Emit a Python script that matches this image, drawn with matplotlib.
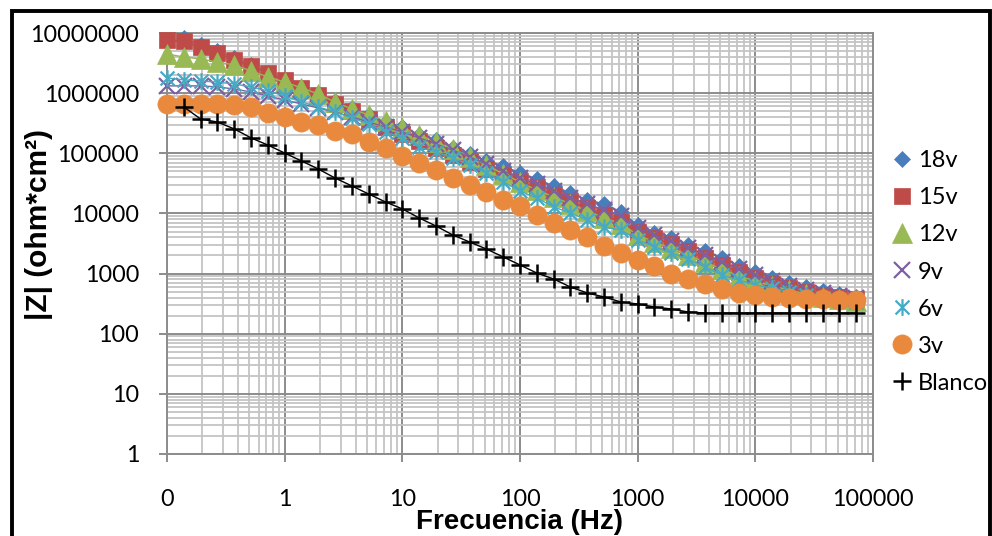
import numpy as np
import matplotlib
matplotlib.use("Agg")
import matplotlib.pyplot as plt
from matplotlib.path import Path
from matplotlib.lines import Line2D
from matplotlib.patches import Rectangle
from matplotlib.ticker import LogLocator, FixedLocator, FixedFormatter, NullFormatter

nan = np.nan

freq = [0.1, 0.139, 0.193, 0.268, 0.373, 0.518, 0.72,
        1, 1.39, 1.93, 2.68, 3.73, 5.18, 7.2,
        10, 13.9, 19.3, 26.8, 37.3, 51.8, 72,
        100, 139, 193, 268, 373, 518, 720,
        1000, 1390, 1930, 2680, 3730, 5180, 7200,
        10000, 13900, 19300, 26800, 37300, 51800, 72000]

z_18v = [nan, 8.26e6, 6.32e6, 5.02e6, 3.84e6, 2.94e6, 2.16e6,
         1.66e6, 1.27e6, 9.68e5, 7.41e5, 5.66e5, 4.34e5, 3.31e5,
         2.74e5, 2.02e5, 1.66e5, 1.22e5, 9.73e4, 7.45e4, 6.15e4,
         4.70e4, 3.73e4, 2.86e4, 2.19e4, 1.67e4, 1.44e4, 1.06e4,
         6.43e3, 4.73e3, 3.91e3, 2.99e3, 2.37e3, 1.82e3, 1.34e3,
         1.06e3, 844, 697, 598, 514, 458, 408]

z_15v = [7.65e6, 7.36e6, 5.85e6, 4.65e6, 3.56e6, 2.83e6, 2.16e6,
         1.66e6, 1.22e6, 9.33e5, 6.61e5, 5.05e5, 3.72e5, 2.74e5,
         2.09e5, 1.60e5, 1.22e5, 9.37e4, 7.16e4, 5.48e4, 4.36e4,
         3.33e4, 2.65e4, 2.03e4, 1.55e4, 1.23e4, 9.42e3, 7.21e3,
         4.92e3, 3.91e3, 3.10e3, 2.37e3, 1.82e3, 1.39e3, 1.06e3,
         844, 671, 576, 494, 441, 408, 378]

z_12v = [4.48e6, 3.99e6, 3.70e6, 3.30e6, 2.94e6, 2.34e6, 1.86e6,
         1.53e6, 1.22e6, 9.68e5, 7.13e5, 5.46e5, 4.34e5, 3.44e5,
         2.63e5, 2.02e5, 1.54e5, 1.18e5, 8.68e4, 6.39e4, 4.53e4,
         3.33e4, 2.45e4, 1.88e4, 1.44e4, 1.10e4, 8.40e3, 6.68e3,
         4.39e3, 3.35e3, 2.66e3, 2.04e3, 1.56e3, 1.19e3, 912,
         753, 622, 534, 458, 408, 378, 350]

z_9v = [1.32e6, 1.32e6, 1.32e6, 1.27e6, 1.17e6, 1.045e6, 8.97e5,
        7.69e5, 6.61e5, 5.66e5, 4.86e5, 4.02e5, 3.31e5, 2.74e5,
        2.26e5, 1.80e5, 1.43e5, 1.13e5, 8.68e4, 6.64e4, 5.08e4,
        3.88e4, 3.08e4, 2.36e4, 1.81e4, 1.44e4, 1.14e4, 9.08e3,
        5.73e3, 4.39e3, 3.48e3, 2.66e3, 2.04e3, 1.56e3, 1.19e3,
        947, 753, 622, 534, 476, 424, 393]

z_6v = [1.79e6, 1.66e6, 1.59e6, 1.53e6, 1.42e6, 1.27e6, 1.09e6,
        8.97e5, 7.13e5, 5.89e5, 4.86e5, 3.86e5, 3.07e5, 2.26e5,
        1.80e5, 1.27e5, 1.05e5, 8.35e4, 6.39e4, 4.70e4, 3.33e4,
        2.36e4, 1.81e4, 1.28e4, 1.02e4, 7.78e3, 5.96e3, 5.31e3,
        3.61e3, 2.77e3, 2.20e3, 1.75e3, 1.29e3, 947, 782,
        646, 576, 494, 441, 393, 364, 337]

z_3v = [6.61e5, 6.61e5, 6.61e5, 6.61e5, 6.36e5, 5.89e5, 4.68e5,
        4.02e5, 3.31e5, 2.96e5, 2.35e5, 2.09e5, 1.54e5, 1.22e5,
        9.02e4, 6.90e4, 5.27e4, 3.88e4, 2.97e4, 2.28e4, 1.67e4,
        1.33e4, 9.42e3, 6.94e3, 5.31e3, 4.06e3, 2.88e3, 2.20e3,
        1.68e3, 1.34e3, 984, 813, 671, 555, 476, 441, 408,
        393, 378, 378, 364, 364]

z_blanco = [nan, 5.89e5, 3.72e5, 3.31e5, 2.54e5, 1.80e5, 1.37e5,
            1.01e5, 7.45e4, 5.48e4, 3.88e4, 2.86e4, 2.10e4, 1.55e4,
            1.19e4, 8.40e3, 6.18e3, 4.39e3, 3.35e3, 2.56e3, 1.89e3,
            1.39e3, 1.02e3, 813, 598, 476, 408, 337, 312, 278, 258,
            230, 221, 221, 221, 221, 221, 221, 221, 221, 221, 221]

series_names = ["18v", "15v", "12v", "9v", "6v", "3v", "Blanco"]
x_tick_vals = [0.1, 1, 10, 100, 1000, 10000, 100000]
x_tick_labels = ["0", "1", "10", "100", "1000", "10000", "100000"]
y_tick_vals = [1, 10, 100, 1000, 10000, 100000, 1000000, 10000000]
y_tick_labels = ["1", "10", "100", "1000", "10000", "100000", "1000000", "10000000"]

# asterisk marker (X plus vertical bar) like Excel's star
star = Path([(-0.5, -0.5), (0.5, 0.5), (-0.5, 0.5), (0.5, -0.5), (0, -0.6), (0, 0.6)],
            [Path.MOVETO, Path.LINETO, Path.MOVETO, Path.LINETO, Path.MOVETO, Path.LINETO])

styles = [
    dict(marker="D", color="#4A7EBB", ms=8.6, mew=0.5),
    dict(marker="s", color="#BE4B48", ms=12.0, mew=0.5),
    dict(marker="^", color="#98B954", ms=15.0, mew=0.5),
    dict(marker="x", color="#7D60A0", ms=11.5, mew=1.6),
    dict(marker=star, color="#46AAC5", ms=12.0, mew=1.6),
    dict(marker="o", color="#E8893E", ms=13.8, mew=0.5),
    dict(marker="+", color="#000000", ms=13.0, mew=1.8),
]
data = [z_18v, z_15v, z_12v, z_9v, z_6v, z_3v, z_blanco]

W, H = 992, 536
fig = plt.figure(figsize=(W / 100, H / 100), dpi=100)
ax = fig.add_axes([167 / W, 1 - 454 / H, (873 - 167) / W, (454 - 33) / H])

tick_font = "Lato"
for i, (vals, st) in enumerate(zip(data, styles)):
    ax.plot(freq, vals, linestyle="-", lw=1.0, color=st["color"],
            marker=st["marker"], markersize=st["ms"], markeredgewidth=st["mew"],
            markerfacecolor=st["color"], markeredgecolor=st["color"],
            clip_on=False, zorder=3 + i)

ax.set_xscale("log")
ax.set_yscale("log")
ax.set_xlim(0.1, 100000)
ax.set_ylim(1, 10000000)

ax.xaxis.set_major_locator(FixedLocator(x_tick_vals))
ax.xaxis.set_major_formatter(FixedFormatter(x_tick_labels))
ax.yaxis.set_major_locator(FixedLocator(y_tick_vals))
ax.yaxis.set_major_formatter(FixedFormatter(y_tick_labels))
ax.xaxis.set_minor_locator(LogLocator(base=10, subs=np.arange(2, 10), numticks=50))
ax.yaxis.set_minor_locator(LogLocator(base=10, subs=np.arange(2, 10), numticks=50))
ax.xaxis.set_minor_formatter(NullFormatter())
ax.yaxis.set_minor_formatter(NullFormatter())

ax.set_axisbelow(True)
ax.grid(which="major", color="#8C8C8C", lw=1.4)
ax.grid(which="minor", color="#C4C4C4", lw=1.3)
for s in ax.spines.values():
    s.set_color("#8C8C8C")
    s.set_linewidth(1.4)

ax.tick_params(which="major", direction="out", length=6, width=1.4, color="#8C8C8C",
               labelsize=16.8, labelcolor="black")
ax.tick_params(which="minor", length=0)
ax.tick_params(axis="x", pad=19)
ax.tick_params(axis="y", pad=14)
for lab in ax.get_xticklabels() + ax.get_yticklabels():
    lab.set_fontfamily(tick_font)

fig.text(520 / W, 1 - 522 / H, "Frecuencia (Hz)", ha="center", va="center",
         fontsize=20, fontweight="bold", family="Liberation Sans")
fig.text(39 / W, 1 - 225 / H, "|Z| (ohm*cm²)", ha="center", va="center", rotation=90,
         fontsize=21.5, fontweight="bold", family="Liberation Sans")

handles = [Line2D([], [], linestyle="none", marker=st["marker"], markersize=st["ms"],
                  markeredgewidth=st["mew"], markerfacecolor=st["color"],
                  markeredgecolor=st["color"]) for st in styles]
leg = fig.legend(handles, series_names, loc="center left",
                 bbox_to_anchor=(893 / W, 1 - 272 / H), frameon=False,
                 prop={"family": tick_font, "size": 17},
                 handlelength=0.75, handletextpad=0.3, labelspacing=0.68,
                 borderpad=0, borderaxespad=0)

fig.add_artist(Rectangle((12 / W, -0.02), (990 - 12) / W, 1 - 11 / H + 0.02,
                         transform=fig.transFigure, fill=False, lw=2.8,
                         edgecolor="black", clip_on=False))

fig.savefig("out.png", dpi=100, facecolor="white")
